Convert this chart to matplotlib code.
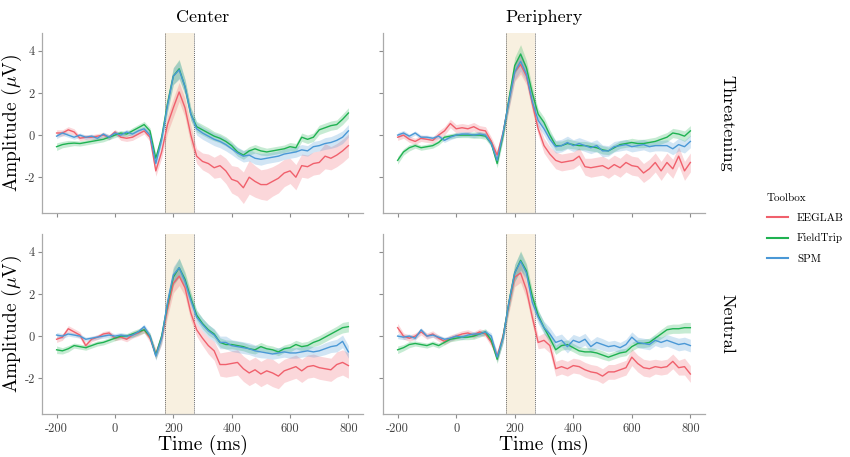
import matplotlib
matplotlib.use("Agg")
import matplotlib.pyplot as plt
from matplotlib.lines import Line2D
import numpy as np

plt.rcParams['font.family'] = 'serif'
plt.rcParams['font.serif'] = ['cmr10']
plt.rcParams['mathtext.fontset'] = 'cm'
plt.rcParams['axes.unicode_minus'] = False
plt.rcParams['axes.formatter.use_mathtext'] = True

# time axis (ms)
times = list(range(-200, 801, 20))

toolboxes = ['EEGLAB', 'FieldTrip', 'SPM']
colors = {'EEGLAB': '#f0606c', 'FieldTrip': '#1fb251', 'SPM': '#4a98d6'}
conditions = ['Threatening', 'Neutral']
locations = ['Center', 'Periphery']

# Threatening / Center
thr_cen_eeglab = [0.1, 0.1, 0.25, 0.15, -0.15, -0.1, -0.1, -0.05, 0.0, -0.1, 0.15, -0.1, -0.15, -0.1, 0.05, 0.2,
                  -0.1, -1.7, -0.8, 0.5, 1.3, 2.05, 1.3, 0.0,
                  -1.0, -1.25, -1.35, -1.55, -1.45, -1.7, -2.1, -2.2, -2.5, -2.0, -2.2, -2.35, -2.35, -2.2,
                  -2.05, -1.8, -1.7, -2.0, -1.45, -1.5, -1.35, -1.3, -1.0, -1.1, -0.95, -0.75, -0.5]
thr_cen_fieldtrip = [-0.55, -0.45, -0.4, -0.38, -0.4, -0.35, -0.3, -0.25, -0.2, -0.1, 0.0, 0.1, 0.05, 0.2, 0.35, 0.5,
                     0.2, -1.1, -0.1, 1.5, 2.8, 3.15, 2.3, 1.0,
                     0.4, 0.25, 0.1, -0.05, -0.15, -0.3, -0.5, -0.8, -0.95, -0.75, -0.65, -0.75, -0.8, -0.75,
                     -0.7, -0.65, -0.55, -0.6, -0.1, -0.2, -0.1, 0.25, 0.35, 0.45, 0.5, 0.75, 1.05]
thr_cen_spm = [-0.05, 0.1, 0.0, -0.1, 0.0, -0.1, -0.05, -0.15, 0.05, -0.1, 0.1, 0.0, 0.15, 0.05, 0.2, 0.3,
               0.0, -1.35, -0.2, 1.4, 2.8, 3.1, 2.3, 1.0,
               0.3, 0.1, -0.05, -0.2, -0.3, -0.45, -0.65, -0.85, -1.0, -0.95, -1.1, -1.15, -1.1, -1.05,
               -1.0, -0.9, -0.85, -0.8, -0.7, -0.75, -0.55, -0.5, -0.4, -0.35, -0.25, -0.1, 0.2]

# Threatening / Periphery
thr_per_eeglab = [-0.1, 0.0, -0.2, -0.3, -0.15, -0.2, -0.25, 0.0, 0.2, 0.55, 0.3, 0.35, 0.3, 0.4, 0.25, 0.2,
                  -0.3, -0.95, 0.1, 1.6, 3.0, 3.35, 2.8, 1.5,
                  0.3, -0.5, -0.9, -1.2, -1.3, -1.25, -1.2, -1.0, -1.5, -1.55, -1.5, -1.45, -1.6, -1.4,
                  -1.55, -1.3, -1.45, -1.5, -1.8, -1.6, -1.3, -1.7, -1.3, -1.6, -1.0, -1.7, -1.3]
thr_per_fieldtrip = [-1.2, -0.8, -0.6, -0.5, -0.6, -0.55, -0.5, -0.35, -0.1, -0.05, 0.0, 0.0, 0.0, 0.0, 0.0, -0.05,
                     -0.4, -1.35, 0.0, 1.7, 3.3, 3.85, 3.2, 2.0,
                     1.0, 0.6, 0.0, -0.5, -0.5, -0.4, -0.45, -0.5, -0.5, -0.55, -0.6, -0.7, -0.75, -0.6,
                     -0.45, -0.4, -0.35, -0.4, -0.4, -0.35, -0.3, -0.2, -0.1, 0.1, 0.05, -0.05, 0.2]
thr_per_spm = [0.0, 0.1, -0.05, 0.1, -0.1, -0.1, -0.15, -0.05, -0.25, -0.1, 0.0, 0.05, 0.05, 0.0, 0.05, 0.0,
               -0.4, -1.2, 0.1, 1.6, 3.0, 3.5, 2.9, 1.6,
               0.7, 0.3, -0.2, -0.55, -0.5, -0.35, -0.5, -0.4, -0.5, -0.6, -0.5, -0.75, -0.75, -0.55,
               -0.5, -0.45, -0.55, -0.5, -0.45, -0.55, -0.5, -0.5, -0.5, -0.65, -0.45, -0.55, -0.3]

# Neutral / Center
neu_cen_eeglab = [-0.15, -0.05, 0.35, 0.2, 0.05, -0.45, -0.15, -0.05, 0.1, 0.15, -0.1, -0.05, -0.15, 0.05, 0.15, 0.3,
                  -0.1, -0.85, -0.1, 1.3, 2.5, 2.85, 2.3, 1.1,
                  0.3, -0.1, -0.45, -0.7, -1.35, -1.35, -1.3, -1.25, -1.55, -1.75, -1.6, -1.8, -1.65, -1.75,
                  -1.9, -1.65, -1.55, -1.45, -1.65, -1.45, -1.4, -1.5, -1.55, -1.6, -1.35, -1.25, -1.4]
neu_cen_fieldtrip = [-0.65, -0.7, -0.6, -0.45, -0.5, -0.55, -0.45, -0.35, -0.3, -0.2, -0.1, 0.0, 0.0, 0.1, 0.2, 0.3,
                     0.0, -0.9, 0.0, 1.5, 2.8, 3.25, 2.7, 1.8,
                     1.0, 0.6, 0.3, 0.1, -0.3, -0.4, -0.4, -0.45, -0.5, -0.6, -0.65, -0.5, -0.6, -0.65,
                     -0.75, -0.6, -0.55, -0.4, -0.5, -0.45, -0.3, -0.2, -0.05, 0.1, 0.25, 0.4, 0.45]
neu_cen_spm = [0.05, 0.0, 0.1, 0.05, 0.0, -0.15, -0.1, -0.05, 0.0, 0.05, 0.0, 0.05, 0.0, 0.05, 0.2, 0.45,
               0.0, -0.95, -0.1, 1.6, 2.9, 3.25, 2.6, 1.7,
               0.9, 0.55, 0.25, 0.05, -0.3, -0.3, -0.45, -0.5, -0.55, -0.6, -0.7, -0.75, -0.8, -0.85,
               -0.8, -0.75, -0.8, -0.8, -0.75, -0.7, -0.75, -0.7, -0.6, -0.5, -0.45, -0.25, -0.75]

# Neutral / Periphery
neu_per_eeglab = [0.4, 0.0, -0.1, 0.0, 0.2, 0.0, 0.1, -0.1, -0.25, -0.1, 0.0, 0.1, 0.15, 0.05, 0.2, 0.1,
                  -0.3, -0.95, 0.0, 1.5, 2.8, 3.0, 2.2, 0.9,
                  -0.3, -0.2, -0.45, -1.55, -1.45, -1.55, -1.4, -1.45, -1.6, -1.7, -1.75, -1.9, -1.7, -1.7,
                  -1.6, -1.5, -1.0, -1.3, -1.5, -1.55, -1.45, -1.5, -1.45, -1.2, -1.5, -1.45, -1.8]
neu_per_fieldtrip = [-0.65, -0.55, -0.4, -0.35, -0.4, -0.45, -0.35, -0.45, -0.3, -0.15, -0.1, -0.05, -0.05, 0.0, 0.1, 0.2,
                     -0.2, -1.1, -0.05, 1.6, 3.0, 3.6, 3.1, 1.9,
                     1.0, 0.4, -0.1, -0.65, -0.45, -0.4, -0.55, -0.7, -0.75, -0.75, -0.8, -0.9, -1.0, -0.9,
                     -0.8, -0.75, -0.5, -0.35, -0.35, -0.3, -0.1, 0.1, 0.3, 0.35, 0.35, 0.4, 0.4]
neu_per_spm = [0.0, -0.05, 0.0, -0.1, 0.3, 0.0, 0.05, -0.05, -0.15, -0.1, 0.0, -0.05, 0.05, 0.1, 0.1, 0.2,
               0.0, -1.0, -0.1, 1.6, 3.0, 3.55, 3.0, 1.6,
               0.9, 0.4, 0.1, -0.3, -0.2, -0.5, -0.2, -0.3, -0.15, -0.5, -0.3, -0.4, -0.5, -0.45,
               -0.55, -0.4, -0.05, -0.3, -0.35, -0.4, -0.2, -0.3, -0.2, -0.3, -0.4, -0.35, -0.45]

# ribbon half widths
thr_cen_eeglab_se = [0.15, 0.15, 0.15, 0.15, 0.12, 0.12, 0.12, 0.12, 0.12, 0.12, 0.12, 0.15, 0.15, 0.15, 0.15, 0.15,
                     0.2, 0.25, 0.3, 0.4, 0.45, 0.45, 0.45, 0.45,
                     0.35, 0.4, 0.45, 0.5, 0.55, 0.6, 0.65, 0.7, 0.75, 0.8, 0.75, 0.7, 0.75, 0.7,
                     0.7, 0.65, 0.6, 0.6, 0.55, 0.55, 0.55, 0.55, 0.6, 0.55, 0.55, 0.55, 0.55]
thr_per_eeglab_se = [0.15, 0.15, 0.15, 0.15, 0.15, 0.15, 0.15, 0.2, 0.2, 0.2, 0.2, 0.2, 0.2, 0.2, 0.2, 0.2,
                     0.2, 0.25, 0.3, 0.4, 0.45, 0.45, 0.4, 0.35,
                     0.3, 0.35, 0.35, 0.4, 0.4, 0.4, 0.4, 0.4, 0.4, 0.45, 0.45, 0.45, 0.45, 0.45,
                     0.45, 0.45, 0.45, 0.45, 0.45, 0.45, 0.45, 0.45, 0.45, 0.45, 0.45, 0.45, 0.45]
neu_cen_eeglab_se = [0.15, 0.15, 0.15, 0.15, 0.15, 0.15, 0.12, 0.12, 0.12, 0.12, 0.12, 0.12, 0.12, 0.15, 0.15, 0.15,
                     0.2, 0.25, 0.3, 0.4, 0.45, 0.45, 0.4, 0.35,
                     0.3, 0.35, 0.4, 0.45, 0.55, 0.6, 0.6, 0.6, 0.6, 0.6, 0.6, 0.6, 0.6, 0.65,
                     0.6, 0.55, 0.55, 0.55, 0.55, 0.55, 0.55, 0.55, 0.55, 0.55, 0.6, 0.6, 0.6]
neu_per_eeglab_se = [0.2, 0.15, 0.15, 0.15, 0.15, 0.15, 0.15, 0.15, 0.15, 0.15, 0.15, 0.15, 0.15, 0.15, 0.15, 0.15,
                     0.2, 0.25, 0.3, 0.4, 0.45, 0.45, 0.4, 0.35,
                     0.3, 0.35, 0.35, 0.35, 0.35, 0.35, 0.35, 0.35, 0.35, 0.35, 0.35, 0.35, 0.35, 0.35,
                     0.35, 0.35, 0.4, 0.4, 0.4, 0.4, 0.35, 0.35, 0.35, 0.35, 0.35, 0.4, 0.4]
fieldtrip_se = [0.18, 0.15, 0.15, 0.12, 0.12, 0.12, 0.12, 0.12, 0.12, 0.12, 0.12, 0.12, 0.12, 0.15, 0.15, 0.15,
                0.15, 0.2, 0.25, 0.35, 0.4, 0.45, 0.35, 0.3,
                0.25, 0.25, 0.25, 0.22, 0.22, 0.22, 0.2, 0.2, 0.2, 0.2, 0.2, 0.2, 0.18, 0.18,
                0.18, 0.18, 0.2, 0.2, 0.2, 0.2, 0.2, 0.22, 0.22, 0.22, 0.22, 0.25, 0.25]
spm_se = [0.12, 0.12, 0.1, 0.1, 0.1, 0.1, 0.1, 0.1, 0.1, 0.12, 0.12, 0.12, 0.12, 0.12, 0.12, 0.12,
          0.15, 0.2, 0.25, 0.35, 0.4, 0.45, 0.35, 0.3,
          0.3, 0.3, 0.3, 0.3, 0.3, 0.3, 0.28, 0.28, 0.28, 0.28, 0.28, 0.28, 0.25, 0.25,
          0.25, 0.25, 0.25, 0.25, 0.25, 0.25, 0.25, 0.25, 0.28, 0.28, 0.3, 0.3, 0.3]

window = (170, 270)

panels = {
    ('Threatening', 'Center'): {'EEGLAB': (thr_cen_eeglab, thr_cen_eeglab_se),
                                'FieldTrip': (thr_cen_fieldtrip, fieldtrip_se),
                                'SPM': (thr_cen_spm, spm_se)},
    ('Threatening', 'Periphery'): {'EEGLAB': (thr_per_eeglab, thr_per_eeglab_se),
                                   'FieldTrip': (thr_per_fieldtrip, fieldtrip_se),
                                   'SPM': (thr_per_spm, spm_se)},
    ('Neutral', 'Center'): {'EEGLAB': (neu_cen_eeglab, neu_cen_eeglab_se),
                            'FieldTrip': (neu_cen_fieldtrip, fieldtrip_se),
                            'SPM': (neu_cen_spm, spm_se)},
    ('Neutral', 'Periphery'): {'EEGLAB': (neu_per_eeglab, neu_per_eeglab_se),
                               'FieldTrip': (neu_per_fieldtrip, fieldtrip_se),
                               'SPM': (neu_per_spm, spm_se)},
}

W, H = 850, 457
fig = plt.figure(figsize=(W / 100, H / 100), dpi=100)

lefts = [42, 383]
widths = [321, 322]
tops = [33, 234]
height = 180
grey = '#8c8c8c'

t = np.array(times)
for r, cond in enumerate(conditions):
    for c, loc in enumerate(locations):
        ax = fig.add_axes([lefts[c] / W, 1 - (tops[r] + height) / H, widths[c] / W, height / H])
        ax.axvspan(window[0], window[1], color='#f8f0e0', lw=0, zorder=0)
        for xv in window:
            ax.axvline(xv, color='#666666', lw=0.7, ls=(0, (1, 1)), zorder=1)
        for tb in toolboxes:
            m, s = panels[(cond, loc)][tb]
            m = np.array(m)
            s = np.array(s)
            ax.fill_between(t, m - s, m + s, color=colors[tb], alpha=0.25, lw=0, zorder=2)
        for tb in toolboxes:
            m, s = panels[(cond, loc)][tb]
            ax.plot(t, m, color=colors[tb], lw=1.0, zorder=3)
        ax.set_xlim(-250, 850)
        ax.set_ylim(-3.7, 4.85)
        ax.set_xticks([-200, 0, 200, 400, 600, 800])
        ax.set_yticks([-2, 0, 2, 4])
        for sp in ['top', 'right']:
            ax.spines[sp].set_visible(False)
        for sp in ['left', 'bottom']:
            ax.spines[sp].set_color('#aaaaaa')
            ax.spines[sp].set_linewidth(0.9)
        ax.tick_params(colors=grey, labelcolor='#444444', labelsize=9, length=3, width=0.8)
        ax.tick_params(axis='y', pad=2)
        if r == 0:
            ax.set_xticklabels([])
            ax.set_title(loc, fontsize=13, pad=8)
        else:
            ax.set_xticklabels(['-200', '0', '200', '400', '600', '800'])
            ax.set_xlabel('Time (ms)', fontsize=14, labelpad=0)
        if c == 0:
            ax.set_yticklabels(['-2', '0', '2', '4'])
            ax.set_ylabel(r'Amplitude ($\mu$V)', fontsize=14)
            ax.yaxis.set_label_coords(-0.056, 0.5)
        else:
            ax.set_yticklabels([])
            ax.text(1.07, 0.5, cond, transform=ax.transAxes, rotation=270,
                    ha='center', va='center', fontsize=13)

handles = [Line2D([0], [0], color=colors[tb], lw=1.5) for tb in toolboxes]
leg = fig.legend(handles, toolboxes, title='Toolbox', loc='upper left',
                 bbox_to_anchor=(757 / W, 1 - 183 / H), frameon=False, fontsize=8,
                 title_fontsize=8, handlelength=1.9, handletextpad=0.8, labelspacing=0.95)
leg._legend_box.align = 'left'

fig.savefig('out.png', dpi=100)
